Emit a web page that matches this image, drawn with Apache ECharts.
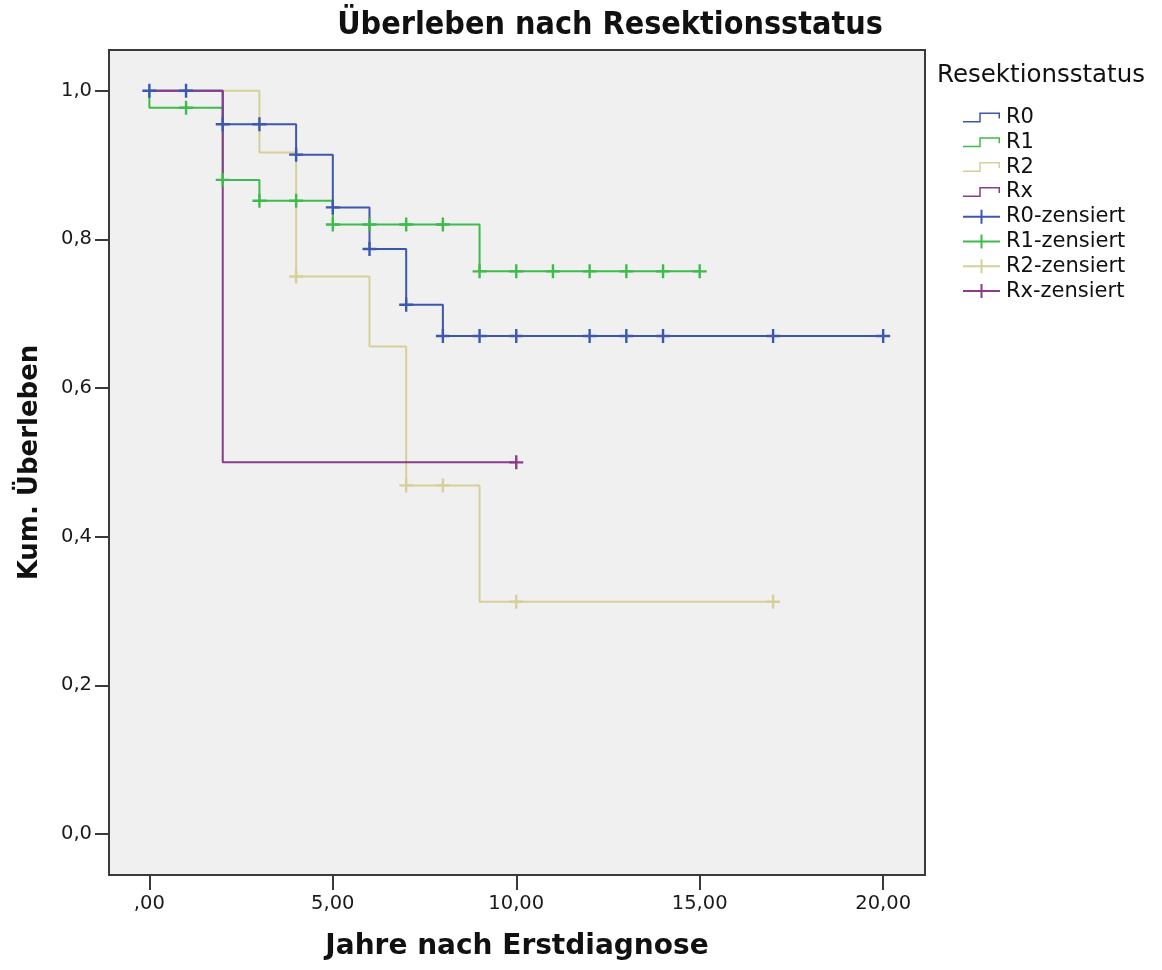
<!DOCTYPE html>
<html>
<head>
<meta charset="utf-8">
<title>Überleben nach Resektionsstatus</title>
<script src="https://cdn.jsdelivr.net/npm/echarts@6/dist/echarts.min.js"></script>
<style>
  html, body { margin: 0; padding: 0; background: #ffffff; }
  #chart { width: 1162px; height: 970px; }
</style>
</head>
<body>
<div id="chart"></div>
<script>
// Kaplan-Meier step curves: event times and survival after each event
const r0Times = [0, 2, 4, 5, 6, 7, 8, 20];
const r0Survival = [1.0, 0.955, 0.914, 0.843, 0.787, 0.712, 0.670, 0.670];
const r0Censored = [0, 1, 2, 3, 4, 5, 6, 7, 8, 9, 10, 12, 13, 14, 17, 20];

const r1Times = [0, 0, 2, 3, 5, 9, 15];
const r1Survival = [1.0, 0.977, 0.880, 0.852, 0.820, 0.757, 0.757];
const r1Censored = [1, 2, 3, 4, 5, 6, 7, 8, 9, 10, 11, 12, 13, 14, 15];

const r2Times = [0, 3, 4, 6, 7, 9, 17];
const r2Survival = [1.0, 0.917, 0.750, 0.656, 0.469, 0.3125, 0.3125];
const r2Censored = [4, 7, 8, 10, 17];

const rxTimes = [0, 2, 10];
const rxSurvival = [1.0, 0.5, 0.5];
const rxCensored = [10];

const groupNames = ['R0', 'R1', 'R2', 'Rx'];
const censoredNames = ['R0-zensiert', 'R1-zensiert', 'R2-zensiert', 'Rx-zensiert'];
const groupColors = ['#3d57b0', '#3fba4c', '#d5d09a', '#8a3c8c'];

const xTickValues = [0, 5, 10, 15, 20];
const xTickLabels = [',00', '5,00', '10,00', '15,00', '20,00'];
const yTickValues = [0, 0.2, 0.4, 0.6, 0.8, 1.0];
const yTickLabels = ['0,0', '0,2', '0,4', '0,6', '0,8', '1,0'];

const curves = [
  { times: r0Times, surv: r0Survival, cens: r0Censored },
  { times: r1Times, surv: r1Survival, cens: r1Censored },
  { times: r2Times, surv: r2Survival, cens: r2Censored },
  { times: rxTimes, surv: rxSurvival, cens: rxCensored }
];

// survival estimate in effect at time t (right-continuous step)
function survivalAt(curve, t) {
  let s = curve.surv[0];
  for (let i = 0; i < curve.times.length; i++) {
    if (curve.times[i] <= t) s = curve.surv[i];
  }
  return s;
}

const stepIcon = 'path://M0,8.5L16.25,8.5L16.25,0L37,0L37,6L35.5,6L35.5,1.5L17.75,1.5L17.75,10L0,10Z';
const plusIcon = 'path://M0,6L17.5,6L17.5,0L19.5,0L19.5,6L37,6L37,8L19.5,8L19.5,14L17.5,14L17.5,8L0,8Z';
const plusMark = 'path://M5.8,0L8.2,0L8.2,5.8L14,5.8L14,8.2L8.2,8.2L8.2,14L5.8,14L5.8,8.2L0,8.2L0,5.8L5.8,5.8Z';

const lineOrder = [2, 1, 0, 3];
const series = [];
lineOrder.forEach(function (g) {
  const c = curves[g];
  series.push({
    name: groupNames[g],
    type: 'line',
    step: 'end',
    symbol: 'none',
    data: c.times.map(function (t, i) { return [t, c.surv[i]]; }),
    lineStyle: { color: groupColors[g], width: 2 },
    itemStyle: { color: groupColors[g] },
    emphasis: { disabled: true },
    z: 3
  });
});
lineOrder.forEach(function (g) {
  const c = curves[g];
  series.push({
    name: censoredNames[g],
    type: 'scatter',
    symbol: plusMark,
    symbolSize: 14,
    data: c.cens.map(function (t) { return [t, survivalAt(c, t)]; }),
    itemStyle: { color: groupColors[g], opacity: 1 },
    emphasis: { disabled: true },
    z: 4
  });
});

const legendData = [];
groupNames.forEach(function (n, g) {
  legendData.push({ name: n, icon: stepIcon, itemStyle: { color: groupColors[g], borderWidth: 0 } });
});
censoredNames.forEach(function (n, g) {
  legendData.push({ name: n, icon: plusIcon, itemStyle: { color: groupColors[g], borderWidth: 0 } });
});

const chart = echarts.init(document.getElementById('chart'), null, { renderer: 'canvas' });
chart.setOption({
  animation: false,
  backgroundColor: '#ffffff',
  title: [
    {
      text: 'Überleben nach Resektionsstatus',
      left: 610,
      top: 10,
      textAlign: 'center',
      padding: 0,
      textStyle: {
        fontFamily: '"DejaVu Sans Condensed", "DejaVu Sans", sans-serif',
        fontWeight: 'bold',
        fontSize: 32,
        color: '#111111'
      }
    },
    {
      text: 'Resektionsstatus',
      left: 937,
      top: 63,
      padding: 0,
      textStyle: {
        fontFamily: '"DejaVu Sans", sans-serif',
        fontWeight: 'normal',
        fontSize: 24.5,
        color: '#111111'
      }
    }
  ],
  legend: {
    orient: 'vertical',
    left: 963,
    top: 107,
    padding: 0,
    itemWidth: 37,
    itemHeight: 14,
    itemGap: 3.8,
    selectedMode: false,
    symbolKeepAspect: true,
    textStyle: {
      fontFamily: '"DejaVu Sans", sans-serif',
      fontSize: 21,
      lineHeight: 21,
      color: '#111111',
      padding: [0, 0, 0, 1]
    },
    data: legendData
  },
  grid: {
    left: 109,
    right: 237,
    top: 50,
    bottom: 95,
    show: true,
    backgroundColor: '#f0f0f0',
    borderColor: '#3a3a3a',
    borderWidth: 2
  },
  xAxis: {
    type: 'value',
    min: -1.1,
    max: 21.14,
    name: 'Jahre nach Erstdiagnose',
    nameLocation: 'middle',
    nameGap: 58,
    nameTextStyle: {
      fontFamily: '"DejaVu Sans", sans-serif',
      fontWeight: 'bold',
      fontSize: 28,
      color: '#111111'
    },
    axisLine: { show: false, onZero: false },
    axisTick: {
      show: true,
      length: 15,
      customValues: xTickValues,
      lineStyle: { color: '#3a3a3a', width: 2 }
    },
    axisLabel: {
      customValues: xTickValues,
      margin: 19,
      fontFamily: '"DejaVu Sans", sans-serif',
      fontSize: 19.5,
      color: '#1a1a1a',
      formatter: function (v) {
        const i = xTickValues.indexOf(v);
        return i >= 0 ? xTickLabels[i] : '';
      }
    },
    splitLine: { show: false }
  },
  yAxis: {
    type: 'value',
    min: -0.0552,
    max: 1.0548,
    name: 'Kum. Überleben',
    nameLocation: 'middle',
    nameGap: 66,
    nameTextStyle: {
      fontFamily: '"DejaVu Sans", sans-serif',
      fontWeight: 'bold',
      fontSize: 26,
      color: '#111111'
    },
    axisLine: { show: false, onZero: false },
    axisTick: {
      show: true,
      length: 14,
      customValues: yTickValues,
      lineStyle: { color: '#3a3a3a', width: 2 }
    },
    axisLabel: {
      customValues: yTickValues,
      margin: 17,
      fontFamily: '"DejaVu Sans", sans-serif',
      fontSize: 19.5,
      color: '#1a1a1a',
      formatter: function (v) {
        for (let i = 0; i < yTickValues.length; i++) {
          if (Math.abs(yTickValues[i] - v) < 1e-9) return yTickLabels[i];
        }
        return '';
      }
    },
    splitLine: { show: false }
  },
  series: series
});
</script>
</body>
</html>
